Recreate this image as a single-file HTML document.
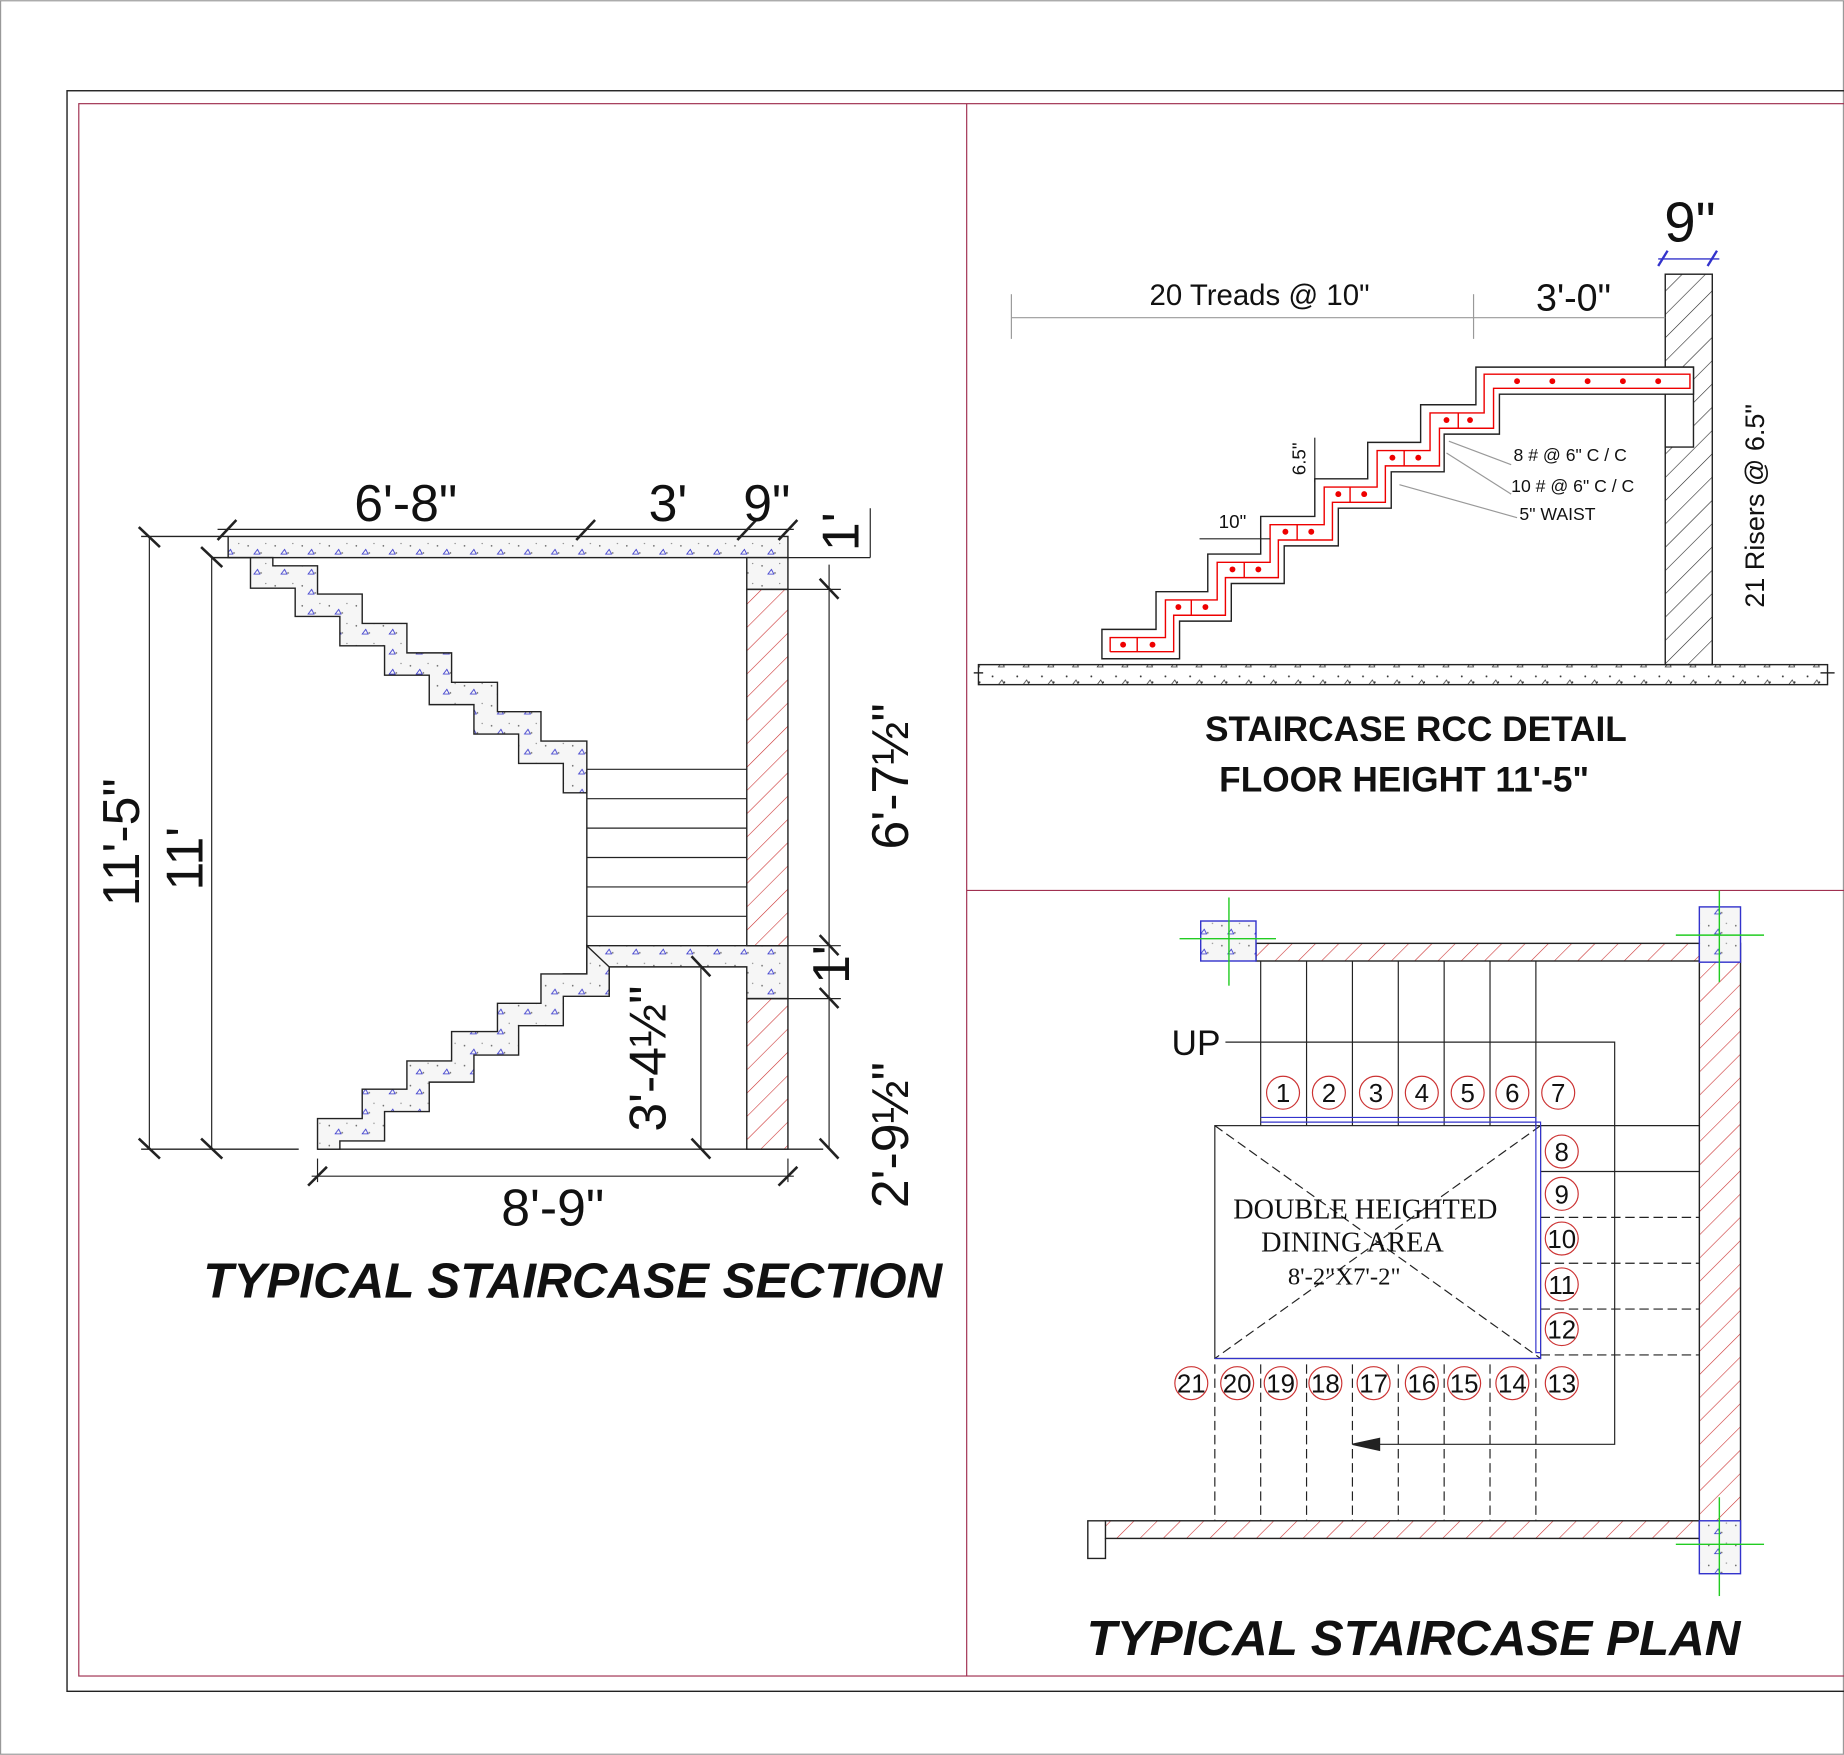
<!DOCTYPE html>
<html><head><meta charset="utf-8"><style>
html,body{margin:0;padding:0;background:#fff}
svg{display:block}
text{font-family:"Liberation Sans",sans-serif}
text.serif{font-family:"Liberation Serif",serif}
</style></head><body>
<svg width="1844" height="1755" viewBox="0 0 1568 1492" xmlns="http://www.w3.org/2000/svg">
<defs>
<pattern id="hr" width="14" height="14" patternUnits="userSpaceOnUse" patternTransform="rotate(45)">
<line x1="0" y1="0" x2="0" y2="14" stroke="#c33" stroke-width="1"/></pattern>
<pattern id="hk" width="14" height="14" patternUnits="userSpaceOnUse" patternTransform="rotate(45)">
<line x1="0" y1="0" x2="0" y2="14" stroke="#222" stroke-width="1"/></pattern>
<pattern id="cc" width="23" height="17" patternUnits="userSpaceOnUse">
<rect width="23" height="17" fill="#f6f6f6"/>
<circle cx="4" cy="5" r="0.7" fill="#666"/><circle cx="15" cy="11" r="0.7" fill="#666"/>
<path d="M9 12 l3 -4 l2 4z" fill="none" stroke="#33c" stroke-width="0.7"/>
<circle cx="19" cy="3" r="0.6" fill="#888"/></pattern>
<pattern id="cg" width="21" height="15" patternUnits="userSpaceOnUse">
<circle cx="4" cy="5" r="0.8" fill="#333"/><circle cx="14" cy="10" r="0.8" fill="#333"/>
<path d="M9 12 l3 -4 l2 4z" fill="none" stroke="#333" stroke-width="0.6"/></pattern>
</defs>
<rect x="0.5" y="0.5" width="1567" height="1491" fill="#fff" stroke="#999"/>
<rect x="57" y="77" width="1520" height="1361" fill="none" stroke="#222" stroke-width="1.2"/>
<rect x="67" y="88" width="1510" height="1337" fill="none" stroke="#a03050" stroke-width="1"/>
<line x1="822" y1="88" x2="822" y2="1425" stroke="#a03050"/>
<line x1="822" y1="757" x2="1568" y2="757" stroke="#a03050"/>

<!-- ===== SECTION ===== -->
<g stroke="#222" stroke-width="1.2">
<rect x="194" y="456" width="476" height="18" fill="url(#cc)"/>
<rect x="635" y="474" width="35" height="27" fill="url(#cc)"/>
<polygon fill="url(#cc)" points="194,474 232,474 232,481 270,481 270,505 308,505 308,530 346,530 346,555 384,555 384,580 423,580 423,605 460,605 460,630 499,630 499,674 479,674 479,649 441,649 441,624 403,624 403,599 365,599 365,574 327,574 327,549 289,549 289,524 251,524 251,500 213,500 213,474"/>
<polygon fill="url(#cc)" points="499,804 670,804 670,849 635,849 635,822 518,822 518,847 479,847 479,828 499,828"/>
<polygon fill="url(#cc)" points="499,804 499,828 460,828 460,853 423,853 423,877 384,877 384,902 346,902 346,926 308,926 308,951 270,951 270,977 289,977 289,970 327,970 327,945 365,945 365,920 403,920 403,897 441,897 441,872 479,872 479,847 518,847 518,822"/>
<rect x="635" y="501" width="35" height="303" fill="url(#hr)"/>
<rect x="635" y="849" width="35" height="128" fill="url(#hr)"/>
<line x1="499" y1="654" x2="499" y2="804"/>
<g stroke-width="1">
<line x1="499" y1="654" x2="635" y2="654"/><line x1="499" y1="679" x2="635" y2="679"/>
<line x1="499" y1="704" x2="635" y2="704"/><line x1="499" y1="729" x2="635" y2="729"/>
<line x1="499" y1="754" x2="635" y2="754"/><line x1="499" y1="779" x2="635" y2="779"/>
</g>
<line x1="270" y1="977" x2="700" y2="977"/>
<line x1="120" y1="977" x2="254" y2="977"/>
<line x1="120" y1="456" x2="194" y2="456"/>
<line x1="180" y1="474" x2="194" y2="474"/>
<g stroke-width="1">
<line x1="127" y1="456" x2="127" y2="977"/>
<line x1="180" y1="474" x2="180" y2="977"/>
<line x1="185" y1="450" x2="675" y2="450"/>
<line x1="670" y1="474" x2="740" y2="474"/>
<line x1="740" y1="432" x2="740" y2="474"/>
<line x1="705" y1="480" x2="705" y2="977"/>
<line x1="670" y1="501" x2="715" y2="501"/>
<line x1="670" y1="804" x2="715" y2="804"/>
<line x1="670" y1="849" x2="715" y2="849"/>
<line x1="596" y1="822" x2="596" y2="977"/>
<line x1="270" y1="985" x2="270" y2="1005"/>
<line x1="670" y1="985" x2="670" y2="1005"/>
<line x1="265" y1="1000" x2="675" y2="1000"/>
</g>
<g stroke-width="2.2">
<line x1="118" y1="448" x2="136" y2="465"/><line x1="118" y1="968" x2="136" y2="985"/>
<line x1="171" y1="465" x2="189" y2="482"/><line x1="171" y1="968" x2="189" y2="985"/>
<line x1="185" y1="459" x2="201" y2="442"/><line x1="490" y1="459" x2="506" y2="442"/>
<line x1="627" y1="459" x2="643" y2="442"/><line x1="662" y1="459" x2="678" y2="442"/>
<line x1="697" y1="492" x2="713" y2="509"/><line x1="697" y1="795" x2="713" y2="812"/>
<line x1="697" y1="840" x2="713" y2="857"/><line x1="697" y1="968" x2="713" y2="985"/>
<line x1="588" y1="813" x2="604" y2="830"/><line x1="588" y1="968" x2="604" y2="985"/>
<line x1="262" y1="1008" x2="278" y2="992"/><line x1="662" y1="1008" x2="678" y2="992"/>
</g>
</g>
<g font-size="44" fill="#111">
<text x="345" y="443" text-anchor="middle">6'-8"</text>
<text x="568" y="443" text-anchor="middle">3'</text>
<text x="652" y="443" text-anchor="middle">9"</text>
<text x="470" y="1042" text-anchor="middle">8'-9"</text>
<text transform="translate(118,716) rotate(-90)" text-anchor="middle">11'-5"</text>
<text transform="translate(172,730) rotate(-90)" text-anchor="middle">11'</text>
<text transform="translate(730,452) rotate(-90)" text-anchor="middle">1'</text>
<text transform="translate(722,820) rotate(-90)" text-anchor="middle">1'</text>
<text transform="translate(772,660) rotate(-90)" text-anchor="middle">6'-7½"</text>
<text transform="translate(772,965) rotate(-90)" text-anchor="middle">2'-9½"</text>
<text transform="translate(566,900) rotate(-90)" text-anchor="middle">3'-4½"</text>
</g>
<text x="487" y="1103" text-anchor="middle" font-size="42" font-weight="bold" font-style="italic" fill="#111">TYPICAL STAIRCASE SECTION</text>

<!-- ===== RCC DETAIL ===== -->
<g stroke="#222" stroke-width="1.2">
<rect x="832" y="565" width="722" height="17" fill="url(#cg)"/>
<rect x="1416" y="233" width="40" height="332" fill="url(#hk)"/>
<polygon fill="#fff" points="1416,312 1440,312 1440,380 1416,380"/>
<polygon fill="#fff" points="937,560 937,535 983,535 983,503 1027,503 1027,471 1072,471 1072,439 1118,439 1118,407 1163,407 1163,376 1208,376 1208,344 1255,344 1255,312 1440,312 1440,335 1275,335 1275,369 1228,369 1228,401 1183,401 1183,432 1138,432 1138,464 1092,464 1092,496 1047,496 1047,528 1003,528 1003,560"/>
<g stroke="#e00" stroke-width="1.2" fill="none">
<polyline points="944,554 944,542 991,542 991,510 1035,510 1035,478 1080,478 1080,446 1126,446 1126,414 1171,414 1171,383 1216,383 1216,351 1262,351 1262,318 1437,318 1437,330 1270,330 1270,364 1224,364 1224,396 1178,396 1178,427 1133,427 1133,459 1087,459 1087,491 1042,491 1042,523 998,523 998,554 944,554"/>
<line x1="967" y1="542" x2="967" y2="554"/><line x1="1013" y1="510" x2="1013" y2="523"/>
<line x1="1058" y1="478" x2="1058" y2="491"/><line x1="1103" y1="446" x2="1103" y2="459"/>
<line x1="1148" y1="414" x2="1148" y2="427"/><line x1="1194" y1="383" x2="1194" y2="396"/>
<line x1="1240" y1="351" x2="1240" y2="364"/>
</g>
<g fill="#e00" stroke="none">
<circle cx="955" cy="548" r="2.5"/><circle cx="980" cy="548" r="2.5"/><circle cx="1002" cy="516" r="2.5"/><circle cx="1025" cy="516" r="2.5"/>
<circle cx="1048" cy="484" r="2.5"/><circle cx="1070" cy="484" r="2.5"/><circle cx="1093" cy="452" r="2.5"/><circle cx="1115" cy="452" r="2.5"/>
<circle cx="1138" cy="420" r="2.5"/><circle cx="1160" cy="420" r="2.5"/><circle cx="1184" cy="389" r="2.5"/><circle cx="1206" cy="389" r="2.5"/>
<circle cx="1230" cy="357" r="2.5"/><circle cx="1250" cy="357" r="2.5"/>
<circle cx="1290" cy="324" r="2.5"/><circle cx="1320" cy="324" r="2.5"/><circle cx="1350" cy="324" r="2.5"/><circle cx="1380" cy="324" r="2.5"/><circle cx="1410" cy="324" r="2.5"/>
</g>
<g stroke="#999" stroke-width="1">
<line x1="860" y1="270" x2="1416" y2="270"/><line x1="860" y1="250" x2="860" y2="288"/><line x1="1253" y1="250" x2="1253" y2="288"/>
<line x1="1232" y1="375" x2="1285" y2="395"/><line x1="1230" y1="385" x2="1285" y2="420"/><line x1="1190" y1="412" x2="1290" y2="440"/>
</g>
<line x1="1410" y1="220" x2="1462" y2="220" stroke="#33c"/>
<line x1="1410" y1="226" x2="1418" y2="213" stroke="#33c" stroke-width="2"/>
<line x1="1452" y1="226" x2="1460" y2="213" stroke="#33c" stroke-width="2"/>
<line x1="1118" y1="372" x2="1118" y2="410" stroke-width="1"/>
<line x1="1020" y1="458" x2="1080" y2="458" stroke-width="1"/>
<line x1="828" y1="572" x2="836" y2="572"/><line x1="1548" y1="572" x2="1560" y2="572"/>
</g>
<g fill="#111">
<text x="1071" y="259" text-anchor="middle" font-size="25">20 Treads @ 10"</text>
<text x="1338" y="264" text-anchor="middle" font-size="32">3'-0"</text>
<text x="1437" y="205" text-anchor="middle" font-size="48">9"</text>
<text transform="translate(1500,430) rotate(-90)" text-anchor="middle" font-size="23">21 Risers @ 6.5"</text>
<text transform="translate(1110,390) rotate(-90)" text-anchor="middle" font-size="16">6.5"</text>
<text x="1048" y="449" text-anchor="middle" font-size="16">10"</text>
<text x="1287" y="392" font-size="15">8 # @  6" C / C</text>
<text x="1285" y="418" font-size="15">10 # @  6" C / C</text>
<text x="1292" y="442" font-size="15">5" WAIST</text>
<text x="1204" y="630" text-anchor="middle" font-size="30" font-weight="bold">STAIRCASE  RCC DETAIL</text>
<text x="1194" y="673" text-anchor="middle" font-size="30" font-weight="bold">FLOOR HEIGHT 11'-5"</text>
</g>

<!-- ===== PLAN ===== -->
<g stroke="#222" stroke-width="1.2">
<rect x="1068" y="802" width="377" height="15" fill="url(#hr)"/>
<rect x="1445" y="802" width="35" height="508" fill="url(#hr)"/>
<rect x="940" y="1293" width="505" height="15" fill="url(#hr)"/>
<polyline fill="none" points="940,1293 925,1293 925,1325 940,1325 940,1308"/>
<g stroke-width="1">
<line x1="1072" y1="817" x2="1072" y2="957"/><line x1="1111" y1="817" x2="1111" y2="957"/>
<line x1="1150" y1="817" x2="1150" y2="957"/><line x1="1189" y1="817" x2="1189" y2="957"/>
<line x1="1228" y1="817" x2="1228" y2="957"/><line x1="1267" y1="817" x2="1267" y2="957"/>
<line x1="1306" y1="817" x2="1306" y2="957"/>
<line x1="1310" y1="957" x2="1445" y2="957"/><line x1="1310" y1="996" x2="1445" y2="996"/>
<line x1="1310" y1="1035" x2="1445" y2="1035" stroke-dasharray="8 4"/>
<line x1="1310" y1="1074" x2="1445" y2="1074" stroke-dasharray="8 4"/>
<line x1="1310" y1="1113" x2="1445" y2="1113" stroke-dasharray="8 4"/>
<line x1="1310" y1="1152" x2="1445" y2="1152" stroke-dasharray="8 4"/>
<g stroke-dasharray="8 4">
<line x1="1033" y1="1160" x2="1033" y2="1293"/><line x1="1072" y1="1160" x2="1072" y2="1293"/>
<line x1="1111" y1="1160" x2="1111" y2="1293"/><line x1="1150" y1="1160" x2="1150" y2="1293"/>
<line x1="1189" y1="1160" x2="1189" y2="1293"/><line x1="1228" y1="1160" x2="1228" y2="1293"/>
<line x1="1267" y1="1160" x2="1267" y2="1293"/><line x1="1306" y1="1160" x2="1306" y2="1293"/>
<line x1="1033" y1="957" x2="1310" y2="1155"/><line x1="1310" y1="957" x2="1033" y2="1155"/>
</g>
<rect x="1033" y="957" width="277" height="198" fill="none"/>
<polyline fill="none" stroke="#33c" points="1072,950 1306,950 1306,1150 1310,1150"/>
<polyline fill="none" stroke="#33c" points="1072,954 1310,954 1310,1155 1033,1155"/>
<polyline fill="none" points="1042,886 1373,886 1373,1228 1155,1228"/>
</g>
<polygon points="1150,1228 1173,1223 1173,1233" fill="#222"/>
</g>
<g stroke="#33c" stroke-width="1.2" fill="url(#cc)">
<rect x="1021" y="783" width="47" height="34"/>
<rect x="1445" y="771" width="35" height="47"/>
<rect x="1445" y="1293" width="35" height="45"/>
</g>
<g stroke="#2c2" stroke-width="1.2">
<line x1="1003" y1="798" x2="1085" y2="798"/><line x1="1045" y1="763" x2="1045" y2="838"/>
<line x1="1425" y1="795" x2="1500" y2="795"/><line x1="1462" y1="757" x2="1462" y2="835"/>
<line x1="1425" y1="1313" x2="1500" y2="1313"/><line x1="1462" y1="1273" x2="1462" y2="1357"/>
</g>
<text x="1017" y="897" text-anchor="middle" font-size="30" fill="#111">UP</text>
<g font-size="22" fill="#111" text-anchor="middle" stroke-width="1">
<g fill="none" stroke="#c33">
<circle cx="1091" cy="929" r="14"/><circle cx="1130" cy="929" r="14"/><circle cx="1170" cy="929" r="14"/><circle cx="1209" cy="929" r="14"/><circle cx="1248" cy="929" r="14"/><circle cx="1286" cy="929" r="14"/><circle cx="1325" cy="929" r="14"/>
<circle cx="1328" cy="979" r="14"/><circle cx="1328" cy="1015" r="14"/><circle cx="1328" cy="1053" r="14"/><circle cx="1328" cy="1092" r="14"/><circle cx="1328" cy="1130" r="14"/><circle cx="1328" cy="1176" r="14"/>
<circle cx="1013" cy="1176" r="14"/><circle cx="1052" cy="1176" r="14"/><circle cx="1089" cy="1176" r="14"/><circle cx="1127" cy="1176" r="14"/><circle cx="1168" cy="1176" r="14"/><circle cx="1209" cy="1176" r="14"/><circle cx="1245" cy="1176" r="14"/><circle cx="1286" cy="1176" r="14"/>
</g>
<text x="1091" y="937">1</text><text x="1130" y="937">2</text><text x="1170" y="937">3</text><text x="1209" y="937">4</text><text x="1248" y="937">5</text><text x="1286" y="937">6</text><text x="1325" y="937">7</text>
<text x="1328" y="987">8</text><text x="1328" y="1023">9</text><text x="1328" y="1061">10</text><text x="1328" y="1100">11</text><text x="1328" y="1138">12</text><text x="1328" y="1184">13</text>
<text x="1013" y="1184">21</text><text x="1052" y="1184">20</text><text x="1089" y="1184">19</text><text x="1127" y="1184">18</text><text x="1168" y="1184">17</text><text x="1209" y="1184">16</text><text x="1245" y="1184">15</text><text x="1286" y="1184">14</text>
</g>
<g fill="#111" text-anchor="middle">
<text class="serif" x="1161" y="1036" font-size="24">DOUBLE HEIGHTED</text>
<text class="serif" x="1150" y="1064" font-size="24">DINING AREA</text>
<text class="serif" x="1143" y="1092" font-size="21">8'-2"X7'-2"</text>
</g>
<text x="1202" y="1407" text-anchor="middle" font-size="42" font-weight="bold" font-style="italic" fill="#111">TYPICAL STAIRCASE PLAN</text>
</svg>
</body></html>
